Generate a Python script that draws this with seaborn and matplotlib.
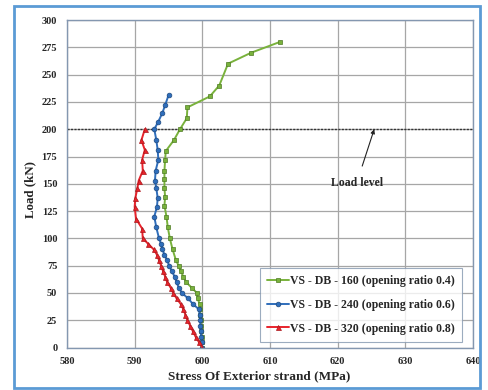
import matplotlib
matplotlib.use("Agg")
import matplotlib.pyplot as plt
import seaborn as sns
import pandas as pd
from matplotlib.patches import Rectangle

sns.set_style("white")
plt.rcParams['font.family'] = ['Liberation Serif', 'DejaVu Serif']
plt.rcParams['font.weight'] = 'bold'

# ---- data ----
green_load = [0, 5, 10, 15, 20, 25, 30, 35, 40, 45, 50, 55, 60, 65, 70, 75, 80, 90, 100,
              110, 120, 130, 138, 146, 154, 162, 172, 180, 190, 200, 210, 220, 230, 240,
              260, 270, 280]
green_stress = [600.0, 599.9, 599.9, 599.8, 599.8, 599.8, 599.7, 599.7, 599.6, 599.3, 599.2,
                598.4, 597.6, 597.2, 596.8, 596.5, 596.1, 595.6, 595.2, 594.9, 594.7, 594.4,
                594.5, 594.4, 594.4, 594.4, 594.5, 594.6, 595.8, 596.7, 597.7, 597.8, 601.1,
                602.5, 603.8, 607.2, 611.5]

blue_load = [0, 5, 10, 15, 20, 25, 30, 35, 40, 45, 50, 55, 60, 65, 70, 75, 80, 85, 90, 95,
             100, 110, 120, 129, 137, 146, 153, 162, 172, 181, 190, 200, 207, 215, 222, 231]
blue_stress = [600.0, 599.9, 599.8, 599.8, 599.7, 599.7, 599.6, 599.5, 598.6, 597.9, 597.0,
               596.5, 596.2, 595.9, 595.5, 595.1, 594.8, 594.4, 594.1, 593.9, 593.6, 593.2,
               592.9, 593.3, 593.4, 593.2, 593.0, 593.1, 593.5, 593.4, 593.2, 592.9, 593.5,
               594.1, 594.5, 595.0]

red_load = [0, 5, 10, 15, 20, 25, 30, 35, 40, 45, 50, 55, 60, 65, 70, 75, 80, 85, 90, 95, 100,
            109, 118, 129, 137, 146, 153, 162, 172, 181, 190, 200]
red_stress = [600.0, 599.5, 599.0, 598.6, 598.2, 597.8, 597.5, 597.2, 596.8, 596.2, 595.7,
              595.3, 594.8, 594.5, 594.2, 593.9, 593.6, 593.3, 592.8, 592.0, 591.2, 591.1,
              590.2, 590.0, 590.1, 590.4, 590.6, 591.2, 591.1, 591.5, 591.0, 591.5]

series_names = ["VS - DB - 160 (opening ratio 0.4)",
                "VS - DB - 240 (opening ratio 0.6)",
                "VS - DB - 320 (opening ratio 0.8)"]
x_ticks = [580, 590, 600, 610, 620, 630, 640]
y_ticks = [0, 25, 50, 75, 100, 125, 150, 175, 200, 225, 250, 275, 300]
load_level = 200

# ---- figure ----
W, H = 488, 390
fig = plt.figure(figsize=(W / 100, H / 100), dpi=100)
ax = fig.add_axes([67 / W, 1 - 347.6 / H, (473 - 67) / W, (347.6 - 20) / H])

# outer chart frame
fig.patches.append(Rectangle((14 / W, 1 - 388 / H), (480 - 14) / W, (388 - 6) / H,
                             transform=fig.transFigure, fill=False,
                             edgecolor='#5B9BD5', linewidth=2))

styles = [
    (green_stress, green_load, '#79B23C', '#4E7A24', 's', 3.4),
    (blue_stress, blue_load, '#2F6EBB', '#1F4A80', 'o', 3.4),
    (red_stress, red_load, '#E8232B', '#A8161B', '^', 3.6),
]
for (xs, ys, col, ecol, mk, ms), name in zip(styles, series_names):
    df = pd.DataFrame({"stress": xs, "load": ys})
    sns.lineplot(data=df, x="stress", y="load", ax=ax, estimator=None, sort=False,
                 color=col, linewidth=1.4, marker=mk, markersize=ms,
                 markeredgecolor=ecol, markeredgewidth=0.5, label=name)

# load level line
ax.axhline(load_level, color='#333333', linewidth=1.0, linestyle=(0, (1.5, 1.0)), zorder=1)
ax.annotate("Load level", xy=(625.4, load_level), xytext=(622.8, 150.5),
            ha='center', va='center', fontsize=8.5, fontweight='bold',
            arrowprops=dict(arrowstyle='-|>', color='#222222', lw=0.8,
                            mutation_scale=6, shrinkA=6, shrinkB=0))

ax.set_xlim(580, 640)
ax.set_ylim(0, 300)
ax.set_xticks(x_ticks)
ax.set_yticks(y_ticks)
ax.set_xticklabels([str(v) for v in x_ticks], fontsize=7.5, fontweight='bold')
ax.set_yticklabels([str(v) for v in y_ticks], fontsize=7.5, fontweight='bold')
ax.tick_params(axis='x', length=0, pad=7)
ax.tick_params(axis='y', length=0, pad=7)
ax.grid(True, color='#A6A6A6', linewidth=0.9)
ax.set_axisbelow(True)
for sp in ax.spines.values():
    sp.set_color('#8497B0')
    sp.set_linewidth(1.0)

ax.set_xlabel("")
ax.set_ylabel("")
fig.text(259 / W, 1 - 376.5 / H, "Stress Of Exterior strand (MPa)", ha='center', va='center',
         fontsize=9.5, fontweight='bold')
fig.text(30 / W, 1 - 189 / H, "Load (kN)", ha='center', va='center', rotation=90,
         fontsize=9.3, fontweight='bold')

leg = ax.legend(loc='lower right', bbox_to_anchor=((461.7 - 67) / (473 - 67), (347.6 - 341.7) / 327.6),
                fontsize=8.5, frameon=True, fancybox=False, handlelength=1.8,
                handletextpad=0.1, labelspacing=1.0, borderpad=0.6, borderaxespad=0)
leg.get_frame().set_edgecolor('#8497B0')
leg.get_frame().set_linewidth(0.8)
for t in leg.get_texts():
    t.set_fontweight('bold')

fig.savefig("out.png", dpi=100)
